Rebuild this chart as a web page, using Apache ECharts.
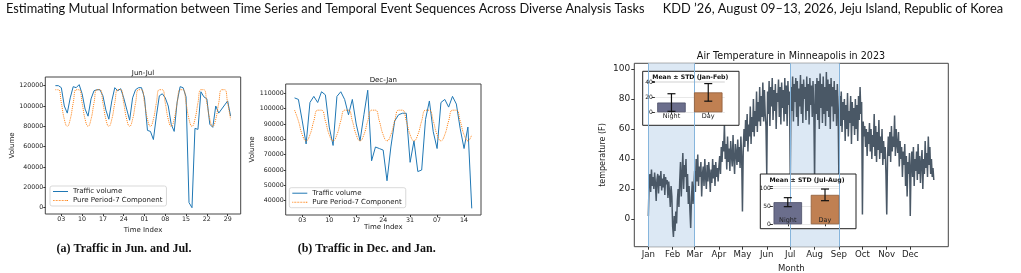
<!DOCTYPE html>
<html>
<head>
<meta charset="utf-8">
<script src="https://cdn.jsdelivr.net/npm/echarts@6/dist/echarts.min.js"></script>
<style>
html, body { margin: 0; padding: 0; background: #fff; }
#chart { width: 1021px; height: 273px; }
</style>
</head>
<body>
<div id="chart"></div>
<script>
// (a) Jun-Jul, one value per day starting Jun 1
const junJulTickIdx = [2, 9, 16, 23, 30, 37, 44, 51, 58]
const junJulTicks = ['03', '10', '17', '24', '01', '08', '15', '22', '29']
const junJulYTicks = [0, 20000, 40000, 60000, 80000, 100000, 120000]
const junJulTraffic = [
  120000, 120000, 118000, 100000, 93000, 108000, 119000, 118000, 121000, 112000,
  97000, 90000, 107000, 115000, 116000, 116000, 110000, 96000, 87000, 105000,
  118000, 115000, 117000, 108000, 97000, 86000, 108000, 116000, 118000, 118000,
  108000, 76000, 75000, 67000, 90000, 110000, 112000, 108000, 100000, 82000,
  75000, 104000, 119000, 118000, 109000, 5000, 0, 78000, 77000, 114000,
  109000, 107000, 82000, 79000, 100000, 93000, 97000, 101000, 105000, 90000
]
const junJulPeriod7 = [
  116000, 116000, 103000, 87000, 80000, 87000, 103000,
  116000, 116000, 103000, 87000, 80000, 87000, 103000,
  116000, 116000, 103000, 87000, 80000, 87000, 103000,
  116000, 116000, 103000, 87000, 80000, 87000, 103000,
  116000, 116000, 103000, 87000, 80000, 87000, 103000,
  116000, 116000, 103000, 87000, 80000, 87000, 103000,
  116000, 116000, 103000, 87000, 80000, 87000, 103000,
  116000, 116000, 103000, 87000, 80000, 87000, 103000,
  116000, 116000, 103000, 87000
]

// (b) Dec-Jan, one value per day starting Dec 1
const decJanTickIdx = [2, 9, 16, 23, 30, 37, 44]
const decJanTicks = ['03', '10', '17', '24', '31', '07', '14']
const decJanYTicks = [40000, 50000, 60000, 70000, 80000, 90000, 100000, 110000]
const decJanTraffic = [
  107000, 106000, 92000, 77000, 104000, 108000, 104000, 111000, 109000, 88000,
  76000, 108000, 111000, 106000, 96000, 106000, 90000, 79000, 96000, 112000,
  66000, 75000, 74000, 73000, 53000, 75000, 92000, 96000, 97000, 97000,
  65000, 79000, 59000, 60000, 93000, 105000, 85000, 74000, 104000, 106000,
  101000, 108000, 103000, 87000, 74000, 88000, 35000
]
const decJanPeriod7 = [
  99000, 92000, 83000, 79000, 83000, 92000, 99000,
  99000, 92000, 83000, 79000, 83000, 92000, 99000,
  99000, 92000, 83000, 79000, 83000, 92000, 99000,
  99000, 92000, 83000, 79000, 83000, 92000, 99000,
  99000, 92000, 83000, 79000, 83000, 92000, 99000,
  99000, 92000, 83000, 79000, 83000, 92000, 99000,
  99000, 92000, 83000, 79000, 83000
]

// Minneapolis 2023, one reading per day (day of year 0 = Jan 1)
const temperature = [
  2, 25, 30, 18, 33, 22, 28, 20, 31, 24, 12, 26, 30, 17, 29, 22, 32, 19, 27, 21, 30, 16, 28, 23, 26, 14, 25, 18, 8, 22, 15, // Jan
  -5, -12, 2, -8, 5, -3, 12, 20, 8, 25, 38, 15, 30, 44, 20, 36, 28, 40, 18, 30, 10, 22, 6, -6, 14, 25, 10, 20,             // Feb
  32, 18, 40, 25, 43, 22, 35, 28, 38, 15, 30, 35, 22, 40, 28, 20, 36, 25, 38, 30, 18, 33, 24, 40, 27, 36, 22, 38, 28, 34, 25, // Mar
  35, 42, 30, 48, 38, 52, 45, 63, 40, 50, 33, 55, 38, 47, 32, 52, 42, 35, 56, 40, 30, 50, 44, 36, 53, 38, 48, 34, 55, 42,   // Apr
  5, 45, 60, 48, 66, 52, 70, 45, 63, 55, 75, 50, 68, 58, 80, 55, 72, 62, 85, 58, 78, 65, 88, 62, 82, 68, 91, 65, 86, 70, 62, // May
  30, 85, 70, 92, 62, 88, 75, 94, 66, 86, 72, 90, 60, 84, 78, 93, 68, 88, 63, 91, 74, 86, 65, 94, 70, 89, 62, 92, 76, 85,   // Jun
  25, 88, 72, 95, 65, 90, 78, 94, 68, 92, 62, 87, 75, 96, 70, 90, 64, 93, 80, 88, 66, 95, 72, 90, 63, 94, 76, 89, 68, 92, 74, // Jul
  25, 90, 70, 94, 66, 92, 60, 97, 74, 90, 64, 95, 70, 88, 62, 98, 72, 93, 68, 90, 60, 94, 75, 88, 65, 92, 70, 86, 62, 90, 72, // Aug
  25, 82, 62, 85, 58, 78, 66, 80, 52, 76, 60, 84, 55, 72, 64, 82, 50, 78, 62, 74, 56, 80, 60, 76, 52, 82, 66, 88, 70, 78,   // Sep
  3, 65, 55, 62, 48, 60, 42, 58, 50, 64, 45, 60, 40, 56, 48, 70, 42, 62, 38, 58, 46, 66, 40, 55, 44, 60, 36, 52, 40, 48, 30, // Oct
  3, 40, 55, 42, 58, 38, 62, 45, 55, 48, 69, 42, 60, 50, 44, 58, 35, 52, 40, 48, 28, 45, 36, 50, 22, 42, 15, 38, 30, 44,     // Nov
  2, 35, 45, 28, 48, 22, 40, 32, 45, 26, 50, 30, 42, 24, 38, 46, 20, 40, 30, 52, 34, 44, 28, 55, 36, 48, 30, 40, 28, 34, 26  // Dec
]
const monthLabels = ['Jan', 'Feb', 'Mar', 'Apr', 'May', 'Jun', 'Jul', 'Aug', 'Sep', 'Oct', 'Nov', 'Dec']
const monthStartDays = [0, 31, 59, 90, 120, 151, 181, 212, 243, 273, 304, 334]
const tempYTicks = [0, 20, 40, 60, 80, 100]
const shadedSpans = [[0, 59], [181, 243]]

// insets
const insetCategories = ['Night', 'Day']
const janFebMean = [13, 26.5]
const janFebStd = [11.7, 11.7]
const julAugMean = [61.5, 81.8]
const julAugStd = [12.5, 16.2]

const FONT = 'DejaVu Sans'
const TXT = '#222'
const BLUE = '#1f77b4'
const ORANGE = '#ff7f0e'
const NIGHT = '#6b6e8c'
const DAY = '#c08052'

// legend glyphs: a solid stroke and a dotted one
const SOLID_ICON = 'path://M0,0H30V2H0Z'
const DOTTED_ICON = 'path://M0,0h1.5v2h-1.5zM3,0h1.5v2h-1.5zM6,0h1.5v2h-1.5zM9,0h1.5v2h-1.5zM12,0h1.5v2h-1.5zM15,0h1.5v2h-1.5zM18,0h1.5v2h-1.5zM21,0h1.5v2h-1.5zM24,0h1.5v2h-1.5zM27,0h1.5v2h-1.5zM28.5,0h1.5v2h-1.5z'

const chart = echarts.init(document.getElementById('chart'))

function frameGrid (left, top, width, height) {
  return { left, top, width, height, show: true, borderColor: '#444', borderWidth: 1, outerBoundsMode: 'none' }
}

function trafficX (gridIndex, min, max, idx, labels) {
  return {
    type: 'value', gridIndex, min, max,
    name: 'Time Index', nameLocation: 'middle', nameGap: 8,
    nameTextStyle: { fontSize: 7, fontFamily: FONT, color: TXT },
    axisLine: { show: false, onZero: false },
    splitLine: { show: false },
    axisTick: { show: true, length: 2, customValues: idx, lineStyle: { color: '#333' } },
    axisLabel: {
      customValues: idx, margin: 2, fontSize: 6.3, fontFamily: FONT, color: TXT,
      formatter: v => labels[idx.indexOf(v)]
    }
  }
}

function trafficY (gridIndex, min, max, ticks, gap) {
  return {
    type: 'value', gridIndex, min, max,
    name: 'Volume', nameLocation: 'middle', nameGap: gap,
    nameTextStyle: { fontSize: 7, fontFamily: FONT, color: TXT },
    axisLine: { show: false, onZero: false },
    splitLine: { show: false },
    axisTick: { show: true, length: 2, customValues: ticks, lineStyle: { color: '#333' } },
    axisLabel: {
      customValues: ticks, margin: 2, fontSize: 6.3, fontFamily: FONT, color: TXT,
      formatter: v => String(v)
    }
  }
}

function trafficLegend (left, top) {
  return {
    left, top, orient: 'vertical',
    data: [
      { name: 'Traffic volume', icon: SOLID_ICON, itemStyle: { color: BLUE } },
      { name: 'Pure Period-7 Component', icon: DOTTED_ICON, itemStyle: { color: ORANGE } }
    ],
    itemWidth: 15, itemHeight: 8, itemGap: 2,
    padding: [2, 4, 2, 3],
    backgroundColor: '#fff', borderColor: '#cfcfcf', borderWidth: 0.8, borderRadius: 2,
    textStyle: { fontSize: 7, fontFamily: FONT, color: TXT }
  }
}

function insetX (gridIndex, min, max, labelMargin) {
  return {
    type: 'value', gridIndex, min, max, z: 5,
    axisLine: { show: false, onZero: false },
    splitLine: { show: false },
    axisTick: { show: true, length: 2, customValues: [0, 1], lineStyle: { color: '#333' } },
    axisLabel: {
      customValues: [0, 1], margin: labelMargin, verticalAlign: 'middle',
      fontSize: 6.5, fontFamily: FONT, color: TXT,
      formatter: v => insetCategories[v]
    }
  }
}

function insetY (gridIndex, max, interval) {
  return {
    type: 'value', gridIndex, min: 0, max, interval, z: 5,
    axisLine: { show: false, onZero: false },
    axisTick: { show: true, length: 3, lineStyle: { color: '#333' } },
    splitLine: { show: true, lineStyle: { color: '#e2e2e2', width: 0.8 } },
    axisLabel: {
      margin: 2, fontSize: 6, fontFamily: FONT, color: TXT,
      formatter: v => (v % interval === 0 ? String(v) : '')
    }
  }
}

function insetBars (gi, means) {
  return {
    type: 'bar', xAxisIndex: gi, yAxisIndex: gi, z: 5, barWidth: 28.5,
    data: means.map((m, i) => ({
      value: [i, m],
      itemStyle: { color: i === 0 ? NIGHT : DAY, borderColor: i === 0 ? '#4c4f68' : '#8f5c38', borderWidth: 0.8 }
    }))
  }
}

function insetErrors (gi, means, stds) {
  return {
    type: 'custom', xAxisIndex: gi, yAxisIndex: gi, z: 6,
    data: means.map((m, i) => [i, m - stds[i], m + stds[i]]),
    renderItem: (params, api) => {
      const lo = api.coord([api.value(0), api.value(1)])
      const hi = api.coord([api.value(0), api.value(2)])
      const w = 4
      const st = { stroke: '#111', lineWidth: 1.2 }
      return {
        type: 'group',
        children: [
          { type: 'line', shape: { x1: lo[0], y1: lo[1], x2: hi[0], y2: hi[1] }, style: st },
          { type: 'line', shape: { x1: lo[0] - w, y1: lo[1], x2: lo[0] + w, y2: lo[1] }, style: st },
          { type: 'line', shape: { x1: hi[0] - w, y1: hi[1], x2: hi[0] + w, y2: hi[1] }, style: st }
        ]
      }
    }
  }
}

function text (x, y, str, font, align, z) {
  return {
    type: 'text', x, y, z: z || 10,
    style: { text: str, font, fill: '#111', align: align || 'center', verticalAlign: 'middle' }
  }
}

chart.setOption({
  animation: false,
  grid: [
    frameGrid(45.3, 77, 195.4, 137),
    frameGrid(285.7, 84, 195.3, 131),
    frameGrid(634.3, 63.3, 314, 183.4),
    { left: 654.9, top: 81.1, width: 69.9, height: 31.2, outerBoundsMode: 'none' },
    { left: 772.9, top: 186.5, width: 67, height: 37.8, outerBoundsMode: 'none' }
  ],
  xAxis: [
    trafficX(0, -3.4, 62.4, junJulTickIdx, junJulTicks),
    trafficX(1, -2.3, 48.4, decJanTickIdx, decJanTicks),
    {
      type: 'value', gridIndex: 2, min: -17.9, max: 382.5,
      name: 'Month', nameLocation: 'middle', nameGap: 12,
      nameTextStyle: { fontSize: 8.5, fontFamily: FONT, color: TXT },
      axisLine: { show: false, onZero: false },
      splitLine: { show: false },
      axisTick: { show: true, length: 3, customValues: monthStartDays, lineStyle: { color: '#333' } },
      axisLabel: {
        customValues: monthStartDays, margin: 4, fontSize: 8.6, fontFamily: FONT, color: TXT,
        formatter: v => monthLabels[monthStartDays.indexOf(v)]
      }
    },
    insetX(3, -0.45, 1.45, 4),
    insetX(4, -0.4, 1.4, -4.3)
  ],
  yAxis: [
    trafficY(0, -6200, 128500, junJulYTicks, 27),
    trafficY(1, 30680, 116060, decJanYTicks, 26.5),
    {
      type: 'value', gridIndex: 2, min: -18.5, max: 103.8,
      name: 'temperature (F)', nameLocation: 'middle', nameGap: 27,
      nameTextStyle: { fontSize: 8, fontFamily: FONT, color: TXT },
      axisLine: { show: false, onZero: false },
      splitLine: { show: false },
      axisTick: { show: true, length: 3, customValues: tempYTicks, lineStyle: { color: '#333' } },
      axisLabel: { customValues: tempYTicks, margin: 4, fontSize: 9, fontFamily: FONT, color: TXT }
    },
    insetY(3, 41.5, 20),
    insetY(4, 105, 50)
  ],
  legend: [trafficLegend(50, 186), trafficLegend(289.3, 187.7)],
  series: [
    {
      name: 'Traffic volume', type: 'line', xAxisIndex: 0, yAxisIndex: 0, symbol: 'none',
      lineStyle: { color: BLUE, width: 1 }, itemStyle: { color: BLUE },
      data: junJulTraffic.map((v, i) => [i, v])
    },
    {
      name: 'Pure Period-7 Component', type: 'line', xAxisIndex: 0, yAxisIndex: 0, symbol: 'none', smooth: 0.5,
      lineStyle: { color: ORANGE, width: 1, type: 'dotted' }, itemStyle: { color: ORANGE },
      data: junJulPeriod7.map((v, i) => [i, v])
    },
    {
      name: 'Traffic volume', type: 'line', xAxisIndex: 1, yAxisIndex: 1, symbol: 'none',
      lineStyle: { color: BLUE, width: 1 }, itemStyle: { color: BLUE },
      data: decJanTraffic.map((v, i) => [i, v])
    },
    {
      name: 'Pure Period-7 Component', type: 'line', xAxisIndex: 1, yAxisIndex: 1, symbol: 'none', smooth: 0.5,
      lineStyle: { color: ORANGE, width: 1, type: 'dotted' }, itemStyle: { color: ORANGE },
      data: decJanPeriod7.map((v, i) => [i, v])
    },
    {
      name: 'temperature', type: 'line', xAxisIndex: 2, yAxisIndex: 2, symbol: 'none', z: 2,
      lineStyle: { color: '#4a5866', width: 1.5 },
      data: temperature.map((v, i) => [i, v]),
      markArea: {
        silent: true,
        itemStyle: { color: '#dce8f4' },
        data: shadedSpans.map(s => [{ xAxis: s[0] }, { xAxis: s[1] }])
      },
      markLine: {
        silent: true, symbol: 'none', label: { show: false },
        lineStyle: { color: '#86b5dc', width: 1, type: 'solid' },
        data: shadedSpans.flat().map(d => ({ xAxis: d }))
      }
    },
    insetBars(3, janFebMean),
    insetErrors(3, janFebMean, janFebStd),
    insetBars(4, julAugMean),
    insetErrors(4, julAugMean, julAugStd)
  ],
  graphic: [
    text(6, 9, 'Estimating Mutual Information between Time Series and Temporal Event Sequences Across Diverse Analysis Tasks', '12.8px Lato', 'left'),
    text(1003, 9, 'KDD ’26, August 09–13, 2026, Jeju Island, Republic of Korea', '12.8px Lato', 'right'),
    text(143, 73, 'Jun-Jul', '7px "DejaVu Sans"'),
    text(383.3, 80, 'Dec-Jan', '7px "DejaVu Sans"'),
    text(791, 56, 'Air Temperature in Minneapolis in 2023', '9.6px "DejaVu Sans"'),
    text(124, 249.3, '(a) Traffic in Jun. and Jul.', 'bold 12px "Liberation Serif"'),
    text(366.7, 249.3, '(b) Traffic in Dec. and Jan.', 'bold 12px "Liberation Serif"'),
    {
      type: 'rect', z: 3, shape: { x: 642.7, y: 71.3, width: 96.3, height: 54 },
      style: { fill: '#fff', stroke: '#222', lineWidth: 1 }
    },
    {
      type: 'rect', z: 3, shape: { x: 760.3, y: 174, width: 95.7, height: 54.7 },
      style: { fill: '#fff', stroke: '#222', lineWidth: 1 }
    },
    text(690.3, 77, 'Mean ± STD (Jan-Feb)', 'bold 6.2px "DejaVu Sans"', 'center', 7),
    text(807, 180, 'Mean ± STD (Jul-Aug)', 'bold 6.2px "DejaVu Sans"', 'center', 7)
  ]
})
</script>
</body>
</html>
